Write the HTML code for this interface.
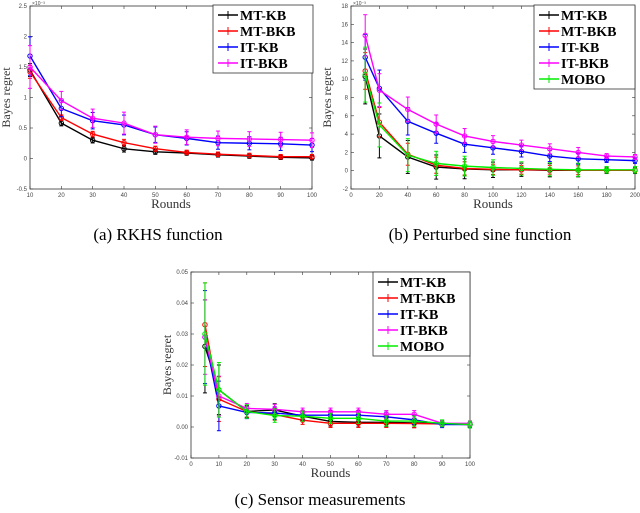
<!DOCTYPE html>
<html><head><meta charset="utf-8"><style>
body{margin:0;background:#fff;width:640px;height:513px;overflow:hidden}
svg{display:block;font-family:"Liberation Serif",serif}
</style></head><body>
<svg id="fig" width="640" height="513"></svg>
<script>
// ---- Data (a) RKHS function ----
const aX=[10,20,30,40,50,60,70,80,90,100];
const aMTKB=[1.45,0.58,0.30,0.16,0.11,0.09,0.06,0.04,0.02,0.01];
const aMTBKB=[1.42,0.67,0.40,0.26,0.16,0.10,0.07,0.05,0.03,0.03];
const aITKB=[1.68,0.82,0.62,0.55,0.39,0.33,0.26,0.25,0.24,0.22];
const aITBKB=[1.50,0.95,0.66,0.58,0.39,0.35,0.33,0.32,0.31,0.30];
const aErr=[0.35,0.15,0.15,0.18,0.14,0.12,0.12,0.12,0.12,0.12];
const aYTicks=[-0.5,0,0.5,1,1.5,2,2.5];
const aXTicks=[10,20,30,40,50,60,70,80,90,100];
// ---- Data (b) Perturbed sine ----
const bX=[10,20,40,60,80,100,120,140,160,180,200];
const bMTKB=[10.3,3.8,1.5,0.4,0.2,0.1,0.1,0.05,0.05,0.05,0.05];
const bMTBKB=[10.9,5.3,1.8,0.6,0.25,0.15,0.1,0.1,0.05,0.05,0.05];
const bITKB=[12.4,9.0,5.4,4.1,2.9,2.5,2.1,1.6,1.3,1.2,1.1];
const bITBKB=[14.8,8.8,6.7,5.1,3.8,3.2,2.8,2.4,2.0,1.6,1.5];
const bMOBO=[10.5,5.0,1.7,0.8,0.5,0.35,0.25,0.15,0.1,0.1,0.1];
const bErr=[2.5,2.0,1.5,1.1,0.9,0.7,0.6,0.6,0.6,0.3,0.3];
const bYTicks=[-2,0,2,4,6,8,10,12,14,16,18];
const bXTicks=[0,20,40,60,80,100,120,140,160,180,200];
// ---- Data (c) Sensor measurements ----
const cX=[5,10,20,30,40,50,60,70,80,90,100];
const cMTKB=[0.026,0.012,0.005,0.0055,0.0035,0.0018,0.0015,0.0015,0.0013,0.0012,0.0008];
const cMTBKB=[0.033,0.009,0.005,0.004,0.0022,0.0012,0.0012,0.0012,0.0011,0.0010,0.0008];
const cITKB=[0.029,0.0068,0.0047,0.0045,0.0038,0.0038,0.0038,0.0033,0.0023,0.0008,0.0008];
const cITBKB=[0.029,0.010,0.006,0.0057,0.0049,0.0049,0.0049,0.0041,0.0041,0.0012,0.0012];
const cMOBO=[0.030,0.012,0.005,0.0037,0.0035,0.0028,0.0028,0.0019,0.0019,0.0012,0.0008];
const cErr=[0.015,0.008,0.002,0.002,0.0015,0.0015,0.0015,0.0015,0.0015,0.001,0.001];
const cYTicks=[-0.01,0,0.01,0.02,0.03,0.04,0.05];
const cXTicks=[0,10,20,30,40,50,60,70,80,90,100];

const NS="http://www.w3.org/2000/svg";
const svg=document.getElementById('fig');
function mk(tag,attrs,parent){const e=document.createElementNS(NS,tag);for(const k in attrs)e.setAttribute(k,attrs[k]);(parent||svg).appendChild(e);return e;}
const COL={'MT-KB':'#000','MT-BKB':'#f00','IT-KB':'#00f','IT-BKB':'#f0f','MOBO':'#0e0'};

function chart(o){
  const g=mk('g',{});
  
  
  const sx=v=>o.L+(v-o.xmin)/(o.xmax-o.xmin)*(o.R-o.L);
  const sy=v=>o.B-(v-o.ymin)/(o.ymax-o.ymin)*(o.B-o.T);
  const frame=mk('rect',{x:o.L,y:o.T,width:o.R-o.L,height:o.B-o.T,fill:'#fff',stroke:'#333','stroke-width':0.8},g);
  
  
  o.yt.forEach(v=>{const y=sy(v);
    mk('line',{x1:o.L,x2:o.L+3,y1:y,y2:y,stroke:'#333','stroke-width':0.6},g);
    mk('line',{x1:o.R,x2:o.R-3,y1:y,y2:y,stroke:'#333','stroke-width':0.6},g);
    const t=mk('text',{x:o.L-3,y:y+2,'font-size':6,'text-anchor':'end',fill:'#444','font-family':'Liberation Sans'},g);
    t.textContent=(o.ydec!==undefined?v.toFixed(o.ydec):String(v));
    
    
  });
  o.xt.forEach(v=>{const x=sx(v);
    mk('line',{x1:x,x2:x,y1:o.B,y2:o.B-3,stroke:'#333','stroke-width':0.6},g);
    mk('line',{x1:x,x2:x,y1:o.T,y2:o.T+3,stroke:'#333','stroke-width':0.6},g);
    const t=mk('text',{x:x,y:o.B+8,'font-size':6,'text-anchor':'middle',fill:'#444','font-family':'Liberation Sans'},g);
    t.textContent=String(v);
    
    
  });
  if(o.exp){const t=mk('text',{x:o.L+2,y:o.T-1,'font-size':5,fill:'#444','font-family':'Liberation Sans'},g);t.textContent='×10⁻³';
    }
  o.series.forEach(s=>{
    const c=COL[s.n];
    const sg=mk('g',{},g);
    
    
    const pts=o.x.map((xv,i)=>sx(xv)+','+sy(s.v[i])).join(' ');
    mk('polyline',{points:pts,fill:'none',stroke:c,'stroke-width':1.4},sg);
    o.x.forEach((xv,i)=>{const x=sx(xv),e=o.err[i]*s.f;
      const y1=sy(s.v[i]-e),y2=sy(s.v[i]+e);
      mk('line',{x1:x,x2:x,y1:y1,y2:y2,stroke:c,'stroke-width':1},sg);
      mk('line',{x1:x-2,x2:x+2,y1:y1,y2:y1,stroke:c,'stroke-width':1},sg);
      mk('line',{x1:x-2,x2:x+2,y1:y2,y2:y2,stroke:c,'stroke-width':1},sg);
      mk('circle',{cx:x,cy:sy(s.v[i]),r:2.2,fill:'none',stroke:c,'stroke-width':1},sg);
    });
  });
  const lg=mk('g',{},g);
  
  
  mk('rect',{x:o.lx,y:o.ly,width:o.lw,height:o.series.length*16+4,fill:'#fff',stroke:'#333','stroke-width':0.8},lg);
  o.series.forEach((s,i)=>{const y=o.ly+10+i*16,c=COL[s.n];
    const e=mk('g',{},lg);
    
    
    mk('line',{x1:o.lx+5,x2:o.lx+25,y1:y,y2:y,stroke:c,'stroke-width':1.4},e);
    mk('line',{x1:o.lx+15,x2:o.lx+15,y1:y-4,y2:y+4,stroke:c,'stroke-width':1},e);
    const t=mk('text',{x:o.lx+27,y:y+5,'font-size':14,'font-weight':'bold',fill:'#000'},e);t.textContent=s.n;
  });
  const xl=mk('text',{x:(o.L+o.R)/2,y:o.B+19,'font-size':13,'text-anchor':'middle',fill:'#333'},g);
  xl.textContent='Rounds';
  const cy=(o.T+o.B)/2;
  const yl=mk('text',{x:o.L-20,y:cy,'font-size':12,'text-anchor':'middle',fill:'#333',transform:`rotate(-90 ${o.L-20} ${cy})`},g);
  yl.textContent='Bayes regret';
  const cap=mk('text',{x:o.capx,y:o.capy,'font-size':17,'text-anchor':'middle',fill:'#000'},g);
  cap.textContent=o.cap;
}

chart({name:'chart-rkhs',L:30,R:312,T:6,B:189,xmin:10,xmax:100,ymin:-0.5,ymax:2.5,x:aX,err:aErr,yt:aYTicks,xt:aXTicks,exp:true,
  series:[{n:'MT-KB',v:aMTKB,f:0.3},{n:'MT-BKB',v:aMTBKB,f:0.3},{n:'IT-KB',v:aITKB,f:0.9},{n:'IT-BKB',v:aITBKB,f:1}],
  lx:213,ly:5,lw:100,cap:'(a)  RKHS function',capx:158,capy:240});
chart({name:'chart-perturbed-sine',L:351,R:635,T:6,B:189,xmin:0,xmax:200,ymin:-2,ymax:18,x:bX,err:bErr,yt:bYTicks,xt:bXTicks,exp:true,
  series:[{n:'MT-KB',v:bMTKB,f:1.2},{n:'MT-BKB',v:bMTBKB,f:0.8},{n:'IT-KB',v:bITKB,f:1},{n:'IT-BKB',v:bITBKB,f:0.9},{n:'MOBO',v:bMOBO,f:1.2}],
  lx:534,ly:5,lw:101,cap:'(b)  Perturbed sine function',capx:480,capy:240});
chart({name:'chart-sensor',L:191,R:470,T:272,B:458,xmin:0,xmax:100,ymin:-0.01,ymax:0.05,x:cX,err:cErr,yt:cYTicks,xt:cXTicks,ydec:2,
  series:[{n:'MT-KB',v:cMTKB,f:1},{n:'MT-BKB',v:cMTBKB,f:0.9},{n:'IT-KB',v:cITKB,f:1},{n:'IT-BKB',v:cITBKB,f:0.8},{n:'MOBO',v:cMOBO,f:1.1}],
  lx:373,ly:272,lw:97,cap:'(c)  Sensor measurements',capx:320,capy:505});
</script>
</body></html>
